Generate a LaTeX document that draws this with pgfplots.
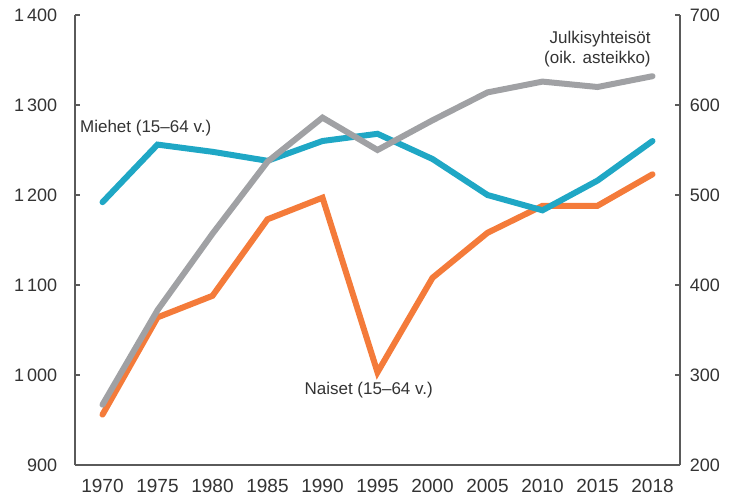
\documentclass[border=0pt]{standalone}
\usepackage{pgfplots}
\pgfplotsset{compat=1.18}
\usepackage{fontspec}
\setmainfont{Liberation Sans}
\definecolor{cblue}{HTML}{1FA7C5}
\definecolor{corange}{HTML}{F47B3A}
\definecolor{cgray}{HTML}{A0A1A4}
\definecolor{axgray}{HTML}{5A5A5A}
\definecolor{txt}{HTML}{333333}
\begin{document}
\fontsize{17bp}{20bp}\selectfont
\begin{tikzpicture}
\path[use as bounding box] (0,0) rectangle (732bp,496bp);
\pgfplotsset{
  common/.style={
    at={(75bp,31bp)}, anchor=south west,
    scale only axis, width=605bp, height=450bp,
    xmin=-0.5, xmax=10.5,
    axis line style={draw=axgray, line width=1.1bp, -},
    tick style={draw=axgray, line width=1.1bp},
    tick align=inside,
    major tick length=5bp,
    ticklabel style={font=\fontsize{18bp}{20bp}\selectfont, text=txt},
    clip=false,
  }
}
\begin{axis}[common,
  axis x line*=bottom, axis y line*=left,
  ymin=900, ymax=1400,
  ytick={900,1000,1100,1200,1300,1400},
  yticklabels={900,1\kern3bp000,1\kern3bp100,1\kern3bp200,1\kern3bp300,1\kern3bp400},
  yticklabel style={xshift=-12bp},
  xtick={0,1,2,3,4,5,6,7,8,9,10},
  xticklabels={1970,1975,1980,1985,1990,1995,2000,2005,2010,2015,2018},
  xtick style={draw=none},
  minor xtick={0.5,1.5,2.5,3.5,4.5,5.5,6.5,7.5,8.5,9.5},
  minor tick length=6bp,
  minor tick style={draw=axgray, line width=1.1bp},
  xticklabel style={yshift=-8bp, font=\fontsize{19bp}{20bp}\selectfont},
]
\addplot[corange, line width=6bp, line cap=round, line join=miter] coordinates {
(0,956) (1,1064) (2,1088) (3,1173) (4,1197) (5,1003) (6,1108) (7,1158) (8,1188) (9,1188) (10,1223)};
\addplot[cblue, line width=6bp, line cap=round, line join=miter] coordinates {
(0,1192) (1,1256) (2,1248) (3,1238) (4,1260) (5,1268) (6,1240) (7,1200) (8,1183) (9,1216) (10,1260)};
\node[anchor=west, text=txt, inner sep=0pt] at (axis cs:-0.41,1274) {Miehet (15–64 v.)};
\node[anchor=center, text=txt, inner sep=0pt] at (axis cs:4.84,983) {Naiset (15–64 v.)};
\node[anchor=east, text=txt, inner sep=0pt, align=right] at (axis cs:9.97,1362) {Julkisyhteisöt\\(oik. asteikko)};
\end{axis}
\begin{axis}[common,
  axis x line=none, axis y line*=right,
  ymin=200, ymax=700,
  ytick={200,300,400,500,600,700},
  yticklabels={200,300,400,500,600,700},
  yticklabel style={xshift=4bp},
  xtick=\empty,
]
\addplot[cgray, line width=6bp, line cap=round, line join=miter] coordinates {
(0,267) (1,372) (2,457) (3,537) (4,586) (5,550) (6,583) (7,614) (8,626) (9,620) (10,632)};
\end{axis}
\end{tikzpicture}
\end{document}
